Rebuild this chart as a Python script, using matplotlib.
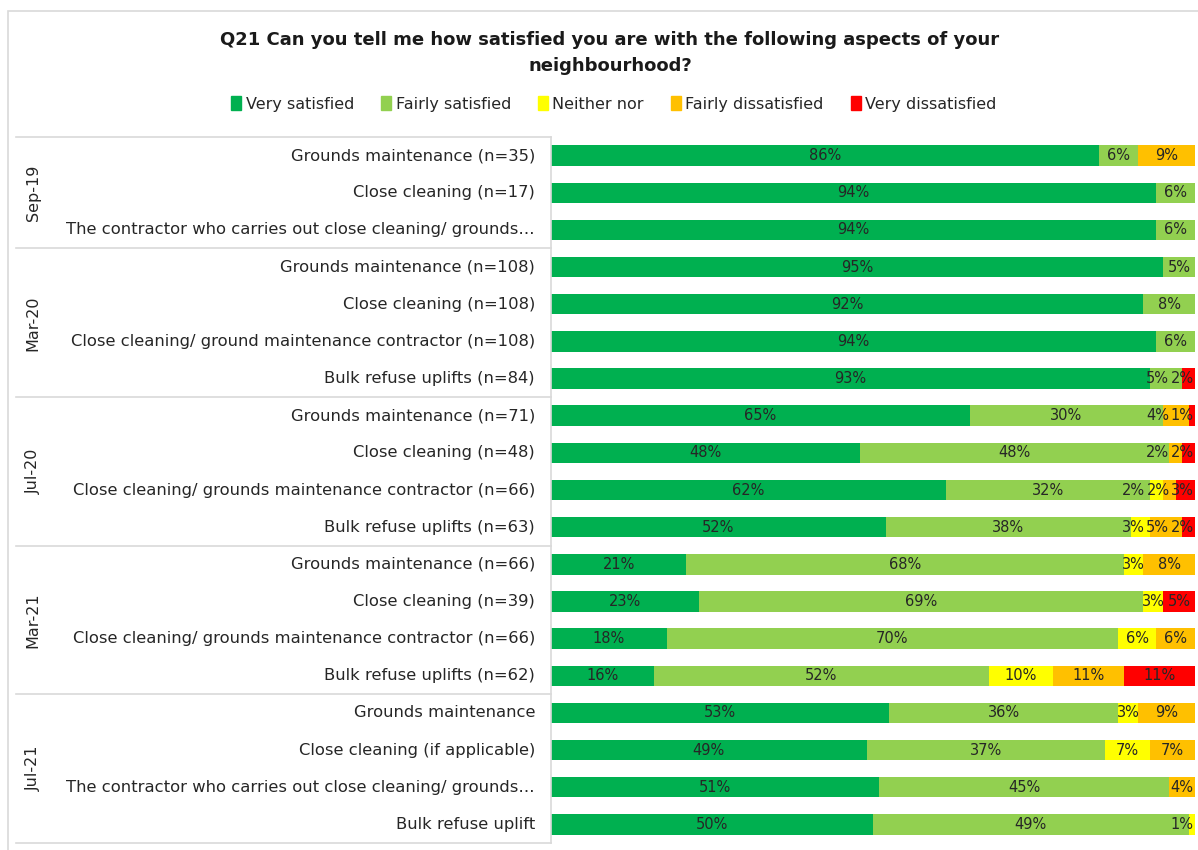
import matplotlib.pyplot as plt
import matplotlib.patches as mpatches
import matplotlib.transforms as mtransforms
import numpy as np

plt.rcParams['font.family'] = ['DejaVu Sans']

title = "Q21 Can you tell me how satisfied you are with the following aspects of your\nneighbourhood?"

series = ["Very satisfied", "Fairly satisfied", "Neither nor",
          "Fairly dissatisfied", "Very dissatisfied"]
colors = ["#00B050", "#92D050", "#FFFF00", "#FFC000", "#FF0000"]

groups = ["Sep-19", "Mar-20", "Jul-20", "Mar-21", "Jul-21"]
group_sizes = [3, 4, 4, 4, 4]

categories = [
    "Grounds maintenance (n=35)",
    "Close cleaning (n=17)",
    "The contractor who carries out close cleaning/ grounds\u2026",
    "Grounds maintenance (n=108)",
    "Close cleaning (n=108)",
    "Close cleaning/ ground maintenance contractor (n=108)",
    "Bulk refuse uplifts (n=84)",
    "Grounds maintenance (n=71)",
    "Close cleaning (n=48)",
    "Close cleaning/ grounds maintenance contractor (n=66)",
    "Bulk refuse uplifts (n=63)",
    "Grounds maintenance (n=66)",
    "Close cleaning (n=39)",
    "Close cleaning/ grounds maintenance contractor (n=66)",
    "Bulk refuse uplifts (n=62)",
    "Grounds maintenance",
    "Close cleaning (if applicable)",
    "The contractor who carries out close cleaning/ grounds\u2026",
    "Bulk refuse uplift",
]

very_satisfied = [86, 94, 94, 95, 92, 94, 93, 65, 48, 62, 52, 21, 23, 18, 16, 53, 49, 51, 50]
fairly_satisfied = [6, 6, 6, 5, 8, 6, 5, 30, 48, 32, 38, 68, 69, 70, 52, 36, 37, 45, 49]
neither_nor = [0, 0, 0, 0, 0, 0, 0, 0, 0, 2, 3, 3, 3, 6, 10, 3, 7, 0, 1]
fairly_dissatisfied = [9, 0, 0, 0, 0, 0, 0, 4, 2, 2, 5, 8, 0, 6, 11, 9, 7, 4, 0]
very_dissatisfied = [0, 0, 0, 0, 0, 0, 2, 1, 2, 3, 2, 0, 5, 0, 11, 0, 0, 0, 0]

values = np.array([very_satisfied, fairly_satisfied, neither_nor,
                   fairly_dissatisfied, very_dissatisfied], dtype=float)
# 100% stacked: scale every row to its own total
shares = values / values.sum(axis=0) * 100

W, H = 1198, 850
fig = plt.figure(figsize=(W / 100, H / 100), dpi=100)

# outer chart frame
fig.patches.append(mpatches.Rectangle((8 / W, -0.01), 1.0, 1 - 11 / H + 0.01,
                                      transform=fig.transFigure, fill=False,
                                      edgecolor="#D9D9D9", linewidth=1.2))

fig.text(610 / W, 1 - 53 / H, title, ha="center", va="center",
         fontsize=13, fontweight="bold", color="#1a1a1a", linespacing=1.6)

left, right, top, bottom = 551, 1195, 137, 843
ax = fig.add_axes([left / W, 1 - bottom / H, (right - left) / W, (bottom - top) / H])

n = len(categories)
y = np.arange(n)
starts = np.zeros(n)
row_labels = [[] for _ in range(n)]
for i, name in enumerate(series):
    ax.barh(y, shares[i], left=starts, height=0.55, color=colors[i], label=name)
    for j in range(n):
        if values[i, j] > 0:
            t = ax.text(starts[j] + shares[i, j] / 2, y[j], f"{int(values[i, j])}%",
                        ha="center", va="center", fontsize=10.5, color="#262626")
            row_labels[j].append(t)
    starts += shares[i]

ax.set_xlim(0, 100)
ax.set_ylim(n - 0.5, -0.5)
ax.set_xticks([])
ax.set_yticks([])
for s in ["top", "right", "bottom"]:
    ax.spines[s].set_visible(False)
ax.spines["left"].set_color("#D9D9D9")
ax.spines["left"].set_linewidth(1.2)

# push crowded labels leftwards so they stay inside the plot and don't collide
fig.canvas.draw()
renderer = fig.canvas.get_renderer()
px_per_pct = (right - left) / 100
for labels in row_labels:
    limit = 100.0
    for t in reversed(labels):
        half = t.get_window_extent(renderer).width / 2 / px_per_pct
        x = t.get_position()[0]
        x = min(x, limit - half - 0.2)
        t.set_x(x)
        limit = x - half

# category labels and the group table on the left
trans = mtransforms.blended_transform_factory(ax.transAxes, ax.transData)
x_line = (16 - left) / (right - left)
for j, cat in enumerate(categories):
    ax.text((535 - left) / (right - left), y[j], cat, transform=trans,
            ha="right", va="center", fontsize=11.8, color="#262626")

edges = np.concatenate([[0], np.cumsum(group_sizes)]) - 0.5
for e in edges:
    ax.plot([x_line, 0], [e, e], transform=trans, color="#D9D9D9",
            linewidth=1.2, clip_on=False)
for g, name in enumerate(groups):
    mid = (edges[g] + edges[g + 1]) / 2
    ax.text((33 - left) / (right - left), mid, name, transform=trans,
            rotation=90, ha="center", va="center", fontsize=11.5, color="#262626")

handles = [mpatches.Patch(color=c) for c in colors]
fig.legend(handles, series, loc="center", bbox_to_anchor=(614 / W, 1 - 104 / H),
           ncol=5, frameon=False, fontsize=11.5, handlelength=0.6, handleheight=0.9,
           handletextpad=0.3, columnspacing=1.7, labelcolor="#262626")

fig.savefig("out.png", dpi=100)
